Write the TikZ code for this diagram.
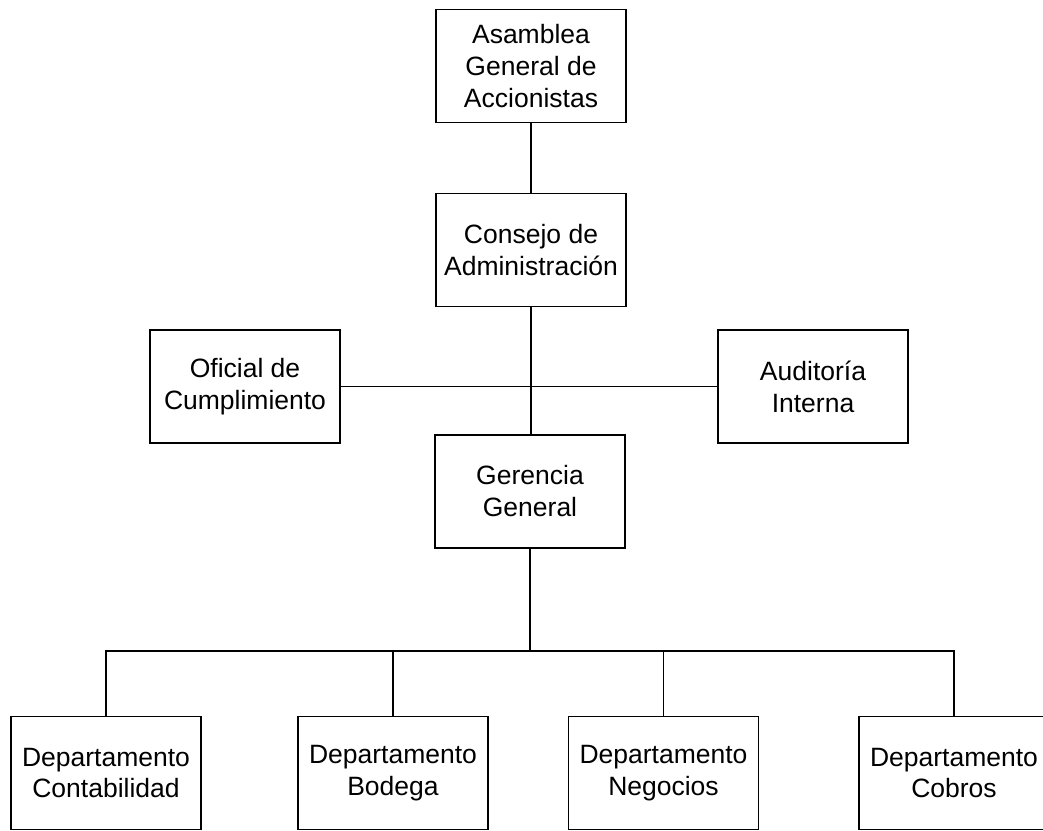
\documentclass[tikz,border=0pt]{standalone}
\usepackage{fontspec}
\setmainfont{Liberation Sans}
\begin{document}
\begin{tikzpicture}[x=1pt,y=-1pt,
  box/.style={draw, line width=1.6pt, minimum width=190pt, minimum height=113pt,
    inner sep=0pt, align=center, font=\fontsize{26.5}{32}\selectfont},
  link/.style={line width=1.2pt}]
\useasboundingbox[fill=white] (0,0) rectangle (1043,830);
\node[box] (asam) at (531,66) {Asamblea\\General de\\Accionistas};
\node[box] (cons) at (531,250) {Consejo de\\Administración};
\node[box] (ofic) at (245,386.5) {Oficial de\\Cumplimiento};
\node[box] (audi) at (813,386.5) {Auditoría\\Interna};
\node[box] (gere) at (530,491.5) {Gerencia\\General};
\node[box] (dcon) at (106,773) {Departamento\\Contabilidad};
\node[box] (dbod) at (393,773) {Departamento\\Bodega};
\node[box] (dneg) at (663.5,773) {Departamento\\Negocios};
\node[box] (dcob) at (954,773) {Departamento\\Cobros};
\coordinate (bus) at (530,651);
\draw[link] (asam.south) -- (cons.north);
\draw[link] (cons.south) -- (cons.south |- gere.north);
\draw[link] (ofic.east) -- (audi.west);
\draw[link] (gere.south) -- (bus);
\draw[link] (dcon.north) -- (dcon.north |- bus) -- (dcob.north |- bus) -- (dcob.north);
\draw[link] (dbod.north) -- (dbod.north |- bus);
\draw[link] (dneg.north) -- (dneg.north |- bus);
\end{tikzpicture}
\end{document}
